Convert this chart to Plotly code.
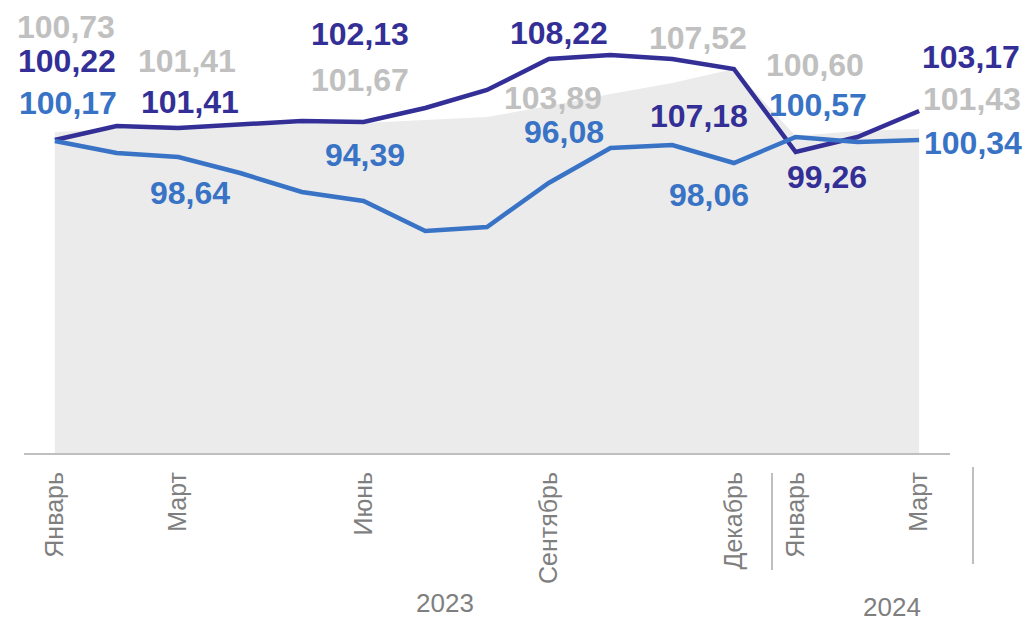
import plotly.graph_objects as go

# ---------------- data ----------------
months = ["Январь", "Февраль", "Март", "Апрель", "Май", "Июнь", "Июль", "Август",
          "Сентябрь", "Октябрь", "Ноябрь", "Декабрь", "Январь", "Февраль", "Март"]
tick_idx = [0, 2, 5, 8, 11, 12, 14]
tick_text = ["Январь", "Март", "Июнь", "Сентябрь", "Декабрь", "Январь", "Март"]
years = ["2023", "2024"]

area_vals = [100.9, 101.2, 101.3, 101.5, 101.7, 101.8, 102.1, 102.4, 103.5, 104.7,
             105.8, 107.2, 100.5, 101.0, 101.2]
purple_vals = [100.1, 101.5, 101.3, 101.7, 102.0, 101.9, 103.3, 105.1, 108.2, 108.6,
               108.2, 107.2, 98.9, 100.4, 103.0]
blue_vals = [100.0, 98.8, 98.4, 96.8, 94.9, 94.0, 91.0, 91.4, 95.8, 99.3,
             99.6, 97.8, 100.4, 99.9, 100.1]

gray_labels = ["100,73", "101,41", "101,67", "103,89", "107,52", "100,60", "101,43"]
purple_labels = ["100,22", "101,41", "102,13", "108,22", "107,18", "99,26", "103,17"]
blue_labels = ["100,17", "98,64", "94,39", "96,08", "98,06", "100,57", "100,34"]

# ---------------- layout / style ----------------
W, H = 1030, 623
L, R, T, B = 24, 80, 0, 170
PW, PH = W - L - R, H - T - B

C_AREA = "#ebebeb"
C_PURPLE = "#332f96"
C_BLUE = "#3873c5"
C_GRAYLBL = "#c0c0c0"
C_AXIS = "#bfbfbf"
C_TXT = "#7f7f7f"

# label centre positions in pixels (x, y)
gray_pos = [(66, 27), (187, 61), (360, 80), (553, 98), (698, 38), (815, 65), (972, 99)]
purple_pos = [(67, 61), (190, 102), (360, 34), (559, 33), (699, 116), (827, 177), (971, 57)]
blue_pos = [(68, 103), (190, 193), (365, 155), (564, 132), (709, 195), (818, 105), (973, 143)]
year_pos = [(445, 603), (892, 607)]


def px(xp):
    return (xp - L) / PW


def py(yp):
    return (T + PH - yp) / PH


x = list(range(len(months)))

fig = go.Figure()
fig.add_trace(go.Scatter(x=x, y=area_vals, mode="lines", fill="tozeroy",
                         fillcolor=C_AREA, line=dict(width=0, color=C_AREA),
                         hoverinfo="skip", showlegend=False))
fig.add_trace(go.Scatter(x=x, y=purple_vals, mode="lines",
                         line=dict(width=4.5, color=C_PURPLE),
                         hoverinfo="skip", showlegend=False))
fig.add_trace(go.Scatter(x=x, y=blue_vals, mode="lines",
                         line=dict(width=4.5, color=C_BLUE),
                         hoverinfo="skip", showlegend=False))

annots = []
for labels, pos, col in [(gray_labels, gray_pos, C_GRAYLBL),
                         (purple_labels, purple_pos, C_PURPLE),
                         (blue_labels, blue_pos, C_BLUE)]:
    for t, (xp, yp) in zip(labels, pos):
        annots.append(dict(text=t, x=px(xp), y=py(yp), xref="paper", yref="paper",
                           xanchor="center", yanchor="middle", showarrow=False,
                           font=dict(family="Liberation Sans, Arial", size=32,
                                     color=col, weight="bold")))

for t, (xp, yp) in zip(years, year_pos):
    annots.append(dict(text=t, x=px(xp), y=py(yp), xref="paper", yref="paper",
                       xanchor="center", yanchor="middle", showarrow=False,
                       font=dict(family="Liberation Sans, Arial", size=26, color=C_TXT)))

shapes = []
for xp, y0, y1 in [(772, 473, 570), (973, 467, 564)]:
    shapes.append(dict(type="line", xref="paper", yref="paper",
                       x0=px(xp), x1=px(xp), y0=py(y0), y1=py(y1),
                       line=dict(color=C_AXIS, width=2)))

y_bottom = 100 - (PH - 141) / 10.0
y_top = 100 + 141 / 10.0

fig.update_layout(
    width=W, height=H,
    margin=dict(l=L, r=R, t=T, b=B),
    paper_bgcolor="white", plot_bgcolor="white",
    showlegend=False,
    annotations=annots,
    shapes=shapes,
    xaxis=dict(range=[-0.5, len(months) - 0.5], showgrid=False, zeroline=False,
               showline=True, linecolor=C_AXIS, linewidth=2,
               tickmode="array", tickvals=tick_idx, ticktext=tick_text,
               tickangle=-90, ticks="", ticklabelstandoff=7,
               tickfont=dict(family="Liberation Sans, Arial", size=25, color=C_TXT)),
    yaxis=dict(range=[y_bottom, y_top], visible=False, showgrid=False, zeroline=False),
)

fig.write_html("out.html", config={"displayModeBar": False},
               post_script="document.body.style.margin='0';document.body.style.overflow='hidden';")
